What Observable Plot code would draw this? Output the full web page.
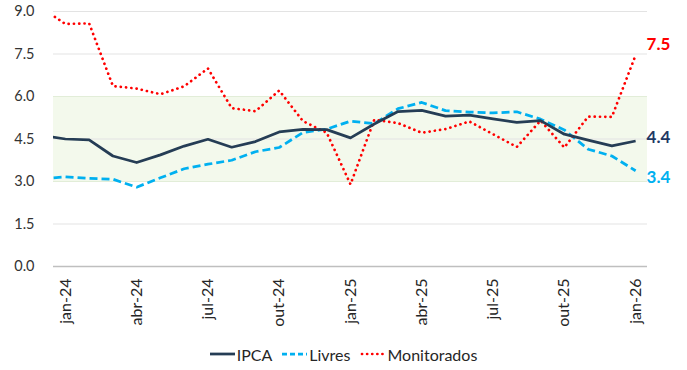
<!DOCTYPE html>
<html>
<head>
<meta charset="utf-8">
<script src="https://cdn.jsdelivr.net/npm/d3@7"></script>
<script src="https://cdn.jsdelivr.net/npm/@observablehq/plot@0.6"></script>
<style>
  html, body { margin: 0; padding: 0; background: #fff; }
  #wrap { position: relative; width: 687px; height: 370px; font-family: Lato, "Open Sans", sans-serif; }
  #wrap svg { display: block; }
  #legend { position: absolute; left: 0; top: 344px; width: 687px; height: 20px;
            display: flex; justify-content: center; align-items: center; font-size: 16px; color: #262626; }
  .item { display: flex; align-items: center; margin: 0 5px; }
  .item svg { margin-right: 2px; }
</style>
</head>
<body>
<div id="wrap"></div>
<script>
// Categories (monthly, 12-month accumulated inflation, %)
const months = ["dez-23","jan-24","fev-24","mar-24","abr-24","mai-24","jun-24","jul-24","ago-24","set-24","out-24","nov-24","dez-24",
                "jan-25","fev-25","mar-25","abr-25","mai-25","jun-25","jul-25","ago-25","set-25","out-25","nov-25","dez-25","jan-26"];
const ipca        = [4.62,4.50,4.47,3.90,3.67,3.94,4.25,4.49,4.21,4.41,4.75,4.84,4.83,4.54,5.03,5.47,5.51,5.31,5.34,5.21,5.09,5.15,4.67,4.46,4.26,4.43];
const livres      = [3.10,3.16,3.11,3.08,2.80,3.13,3.45,3.61,3.75,4.05,4.20,4.73,4.85,5.13,5.04,5.57,5.79,5.50,5.45,5.42,5.46,5.20,4.82,4.14,3.90,3.38];
const monitorados = [9.12,8.56,8.58,6.37,6.28,6.08,6.36,6.99,5.59,5.48,6.21,5.13,4.72,2.90,5.18,5.06,4.72,4.85,5.12,4.67,4.22,5.15,4.20,5.29,5.28,7.46];
const seriesNames = ["IPCA","Livres","Monitorados"];
const targetBand = [3.0, 6.0];
const yTicks = [0, 1.5, 3.0, 4.5, 6.0, 7.5, 9.0];
const tickMonths = ["jan-24","abr-24","jul-24","out-24","jan-25","abr-25","jul-25","out-25","jan-26"];

// styles
const colors = {IPCA: "#253D55", Livres: "#00B0F0", Monitorados: "#FF0000"};
const labelColors = {IPCA: "#1F3864", Livres: "#00B0F0", Monitorados: "#FF0000"};
const dashes = {IPCA: null, Livres: "8,4", Monitorados: "0.1,5.2"};
const caps = {IPCA: "butt", Livres: "butt", Monitorados: "round"};
const widths = {IPCA: 2.75, Livres: 2.75, Monitorados: 2.7};
const labelDy = {IPCA: -3, Livres: 7, Monitorados: -11};

// index 0 = jan-24 (dez-23 sits just outside the frame and is clipped)
const idx = m => months.indexOf(m) - 1;
const seriesValues = {IPCA: ipca, Livres: livres, Monitorados: monitorados};
const rows = seriesNames.flatMap(s => seriesValues[s].map((v, k) => ({s, x: k - 1, v})));
const xDomain = [idx("jan-24") - 0.5, idx("jan-26") + 0.5];

const marks = [
  Plot.rect([targetBand], {x1: () => xDomain[0], x2: () => xDomain[1], y1: d => d[0], y2: d => d[1], fill: "#F3F9EC"}),
  Plot.ruleY(yTicks.filter(t => t > 0), {stroke: "#E3E3E3", strokeWidth: 1.2}),
  Plot.ruleY(targetBand, {stroke: "#E2EDD8", strokeWidth: 1.2}),
  Plot.ruleY([0], {stroke: "#BFBFBF", strokeWidth: 1.6}),
  Plot.axisY({ticks: yTicks, tickFormat: d3.format(".1f"), tickSize: 0, tickPadding: 19, fontSize: 14.5, color: "#333", label: null}),
  Plot.axisX({ticks: tickMonths.map(idx), tickFormat: i => months[i + 1], tickRotate: -90, tickSize: 0, tickPadding: 12, fontSize: 16, color: "#262626", label: null})
];
for (const s of ["Livres", "Monitorados", "IPCA"]) {
  const data = rows.filter(r => r.s === s);
  marks.push(Plot.line(data, {x: "x", y: "v", stroke: colors[s], strokeWidth: widths[s], strokeDasharray: dashes[s],
    strokeLinecap: caps[s], clip: true}));
}
for (const s of seriesNames) {
  const last = rows.filter(r => r.s === s).slice(-1);
  marks.push(Plot.text(last, {x: "x", y: "v", text: d => d3.format(".1f")(d.v), dx: 11, dy: labelDy[s], textAnchor: "start",
    fill: labelColors[s], fontWeight: "bold", fontSize: 17}));
}

const chart = Plot.plot({
  width: 687,
  height: 335,
  marginTop: 11,
  marginBottom: 69,
  marginLeft: 53,
  marginRight: 40,
  style: {fontFamily: "Lato, 'Open Sans', sans-serif", background: "#fff"},
  x: {type: "linear", domain: xDomain},
  y: {domain: [0, 9]},
  marks
});
const wrap = document.getElementById("wrap");
wrap.appendChild(chart);

// legend
const legend = document.createElement("div");
legend.id = "legend";
const legendDash = {IPCA: null, Livres: "5,3", Monitorados: "0.1,5"};
for (const s of seriesNames) {
  const item = document.createElement("div");
  item.className = "item";
  const sw = d3.create("svg").attr("width", 25).attr("height", 10);
  sw.append("line").attr("x1", s === "Monitorados" ? 2 : 0).attr("x2", 25).attr("y1", 5).attr("y2", 5)
    .attr("stroke", colors[s]).attr("stroke-width", widths[s])
    .attr("stroke-linecap", caps[s])
    .attr("stroke-dasharray", legendDash[s]);
  item.appendChild(sw.node());
  const t = document.createElement("span");
  t.textContent = s;
  item.appendChild(t);
  legend.appendChild(item);
}
wrap.appendChild(legend);
</script>
</body>
</html>
